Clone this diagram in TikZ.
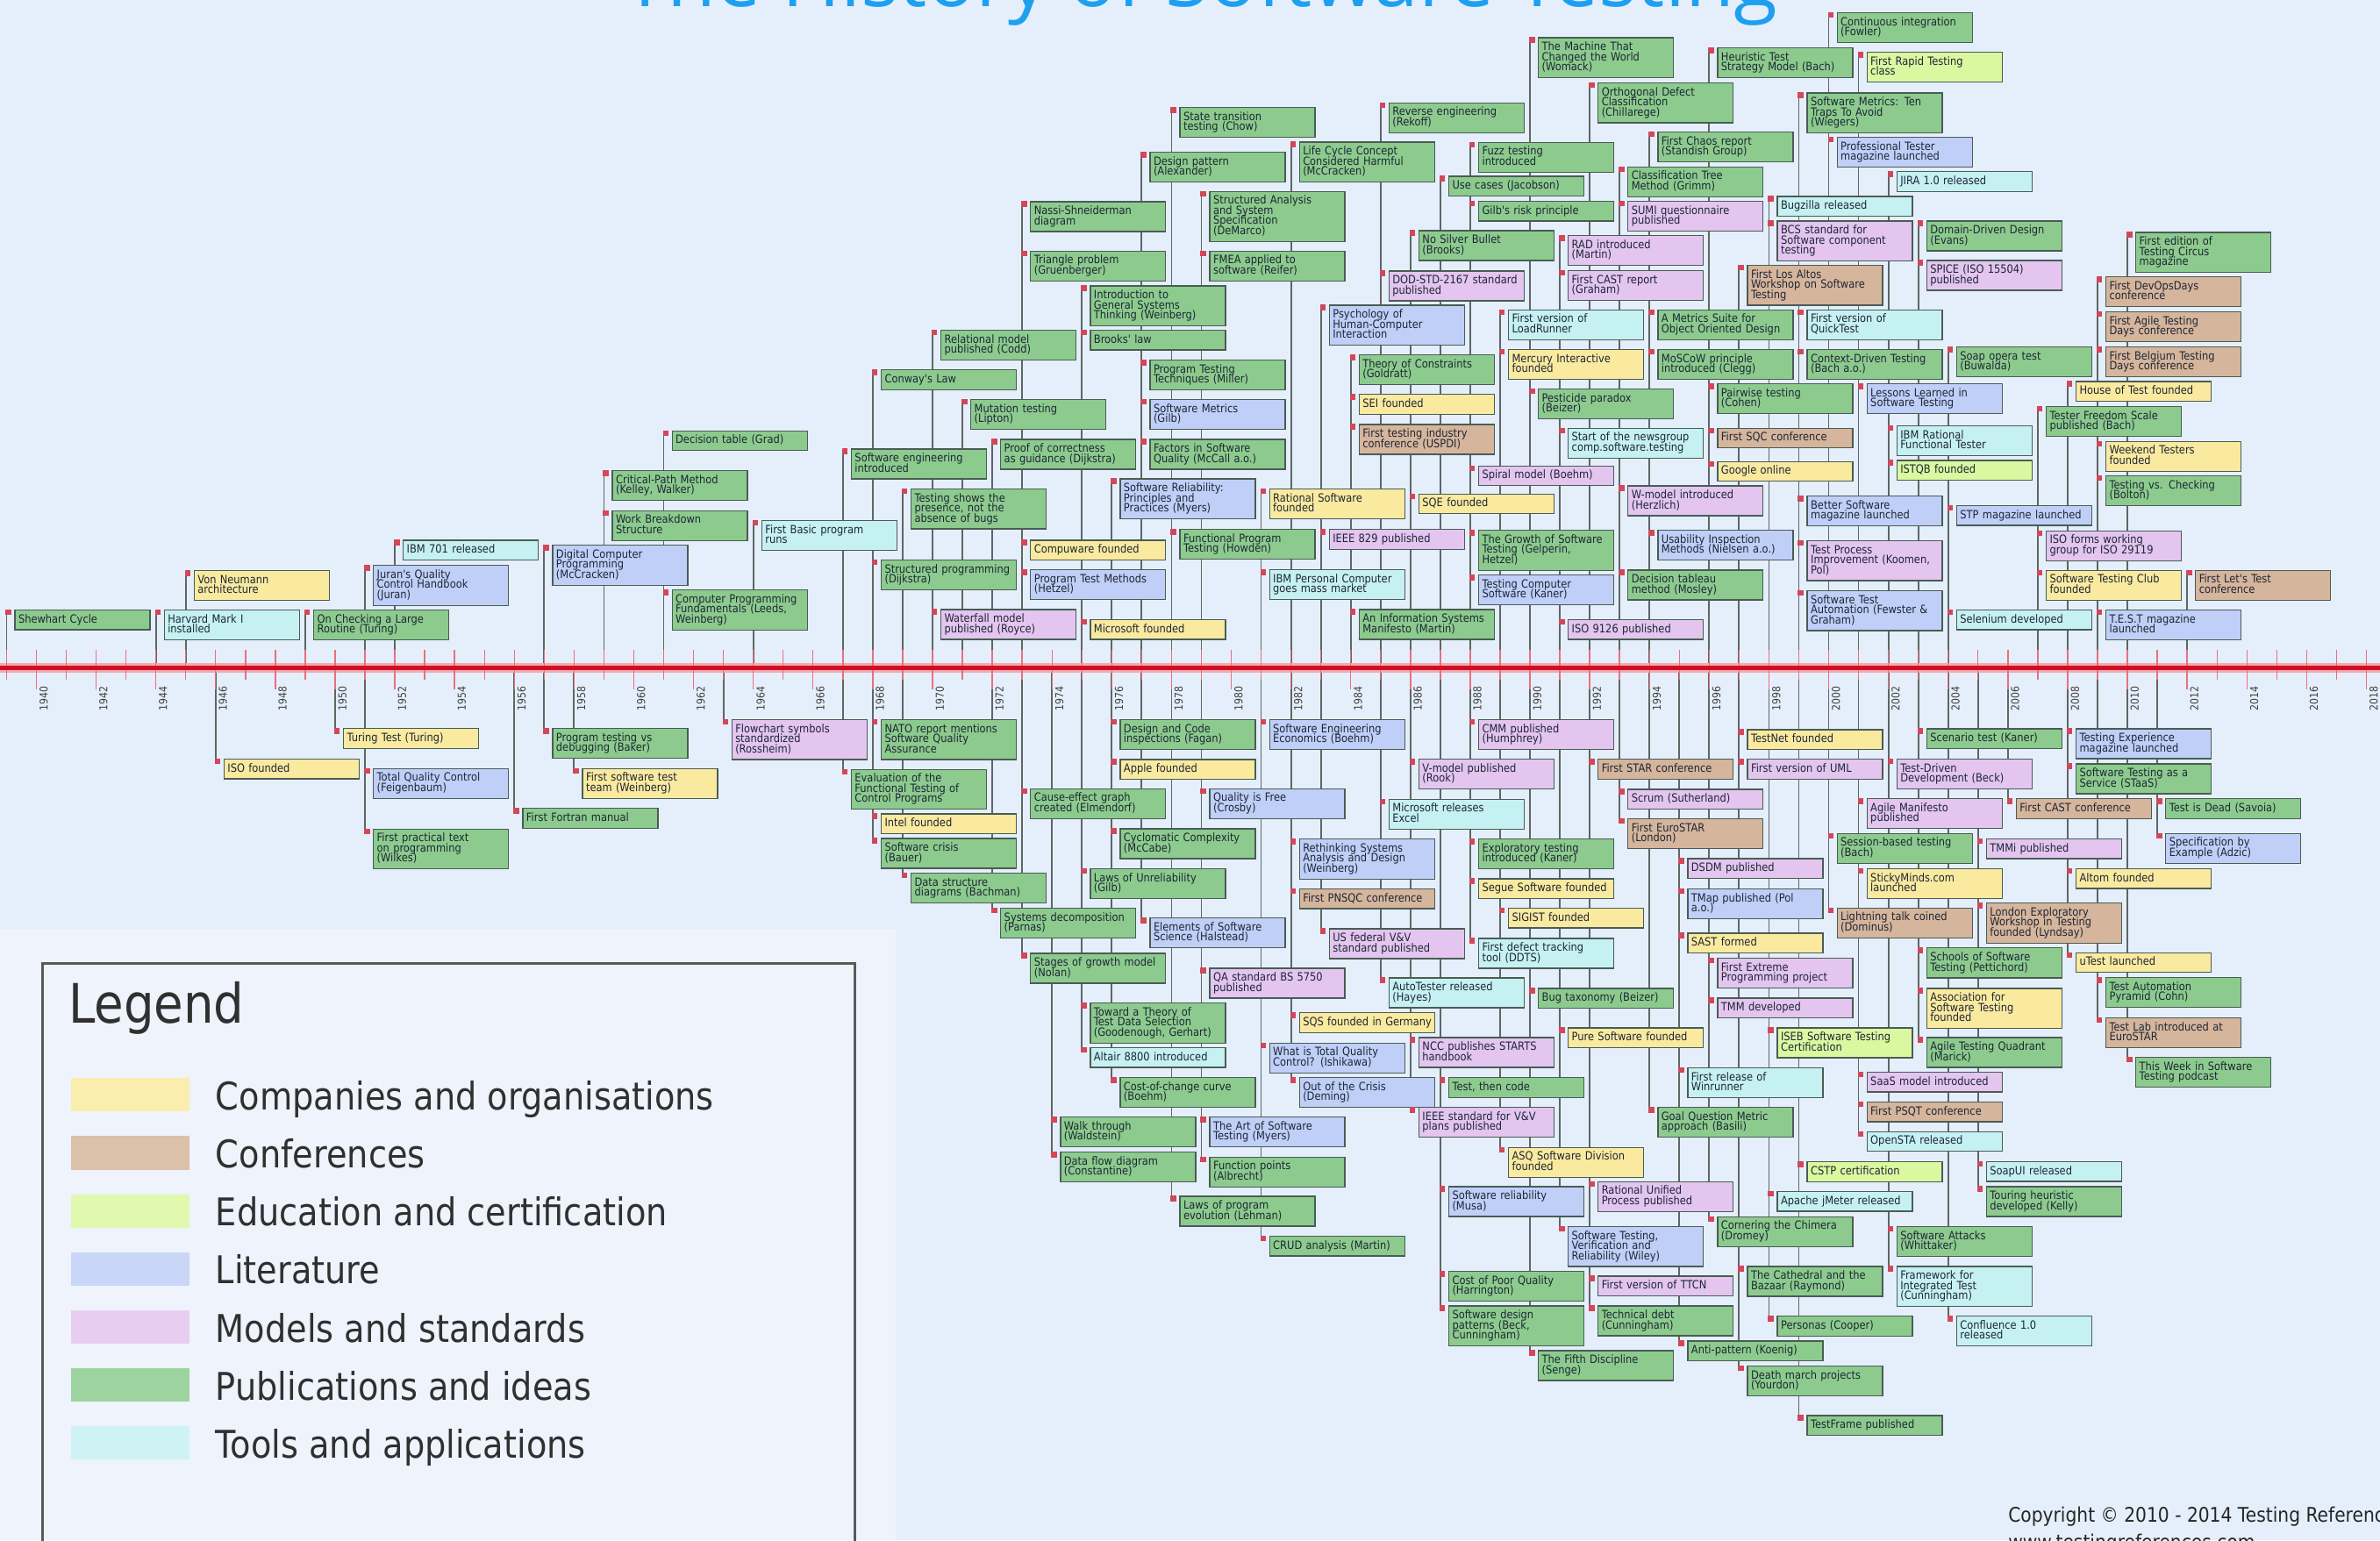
\documentclass[tikz,border=0pt]{standalone}
\usepackage{fontspec}
\newfontfamily\cf{DejaVu Sans}[FakeStretch=0.88]
\newfontfamily\tf{Open Sans}
\pgfdeclarelayer{bg}\pgfdeclarelayer{lines}\pgfdeclarelayer{axis}
\pgfsetlayers{bg,lines,axis,main}
\definecolor{bgc}{HTML}{E5EFFB}
\definecolor{legbg}{HTML}{EEF3FC}
\definecolor{cPub}{HTML}{8CCB8D}
\definecolor{cComp}{HTML}{FAEA9F}
\definecolor{cConf}{HTML}{D5B59B}
\definecolor{cEdu}{HTML}{DAF8A0}
\definecolor{cLit}{HTML}{BFCFF7}
\definecolor{cMod}{HTML}{E3C5EF}
\definecolor{cTool}{HTML}{C6F1F3}
\definecolor{boxline}{HTML}{4A5C55}
\definecolor{txt}{HTML}{1E2636}
\definecolor{evl}{HTML}{5E6666}
\definecolor{mk}{HTML}{D2475A}
\definecolor{axc}{HTML}{D01020}
\definecolor{halo}{HTML}{F2A8B2}
\definecolor{tickc}{HTML}{E8707E}
\definecolor{titc}{HTML}{1EA0F0}
\definecolor{legt}{HTML}{303030}
\newcommand\bstrut{\vrule width 0pt height 9.9pt depth 3.1pt}
\newcommand\boxfont{\cf\fontsize{13}{11.5}\selectfont\lineskiplimit=-20pt\hyphenpenalty=10000\relax}
\tikzset{
  evbox/.style={draw=boxline, line width=1.3pt, anchor=north west, text width=146pt, align=left,
    inner xsep=4pt, inner ysep=4.75pt, font=\boxfont, text=txt,
    execute at begin node=\bstrut, execute at end node=\bstrut},
  evline/.style={draw=evl, line width=1.8pt},
  evmark/.style={fill=mk},
  yearlab/.style={font=\cf\fontsize{12.4}{13}\selectfont, text=black!75, inner sep=0pt, rotate=90, anchor=east},
  yeartick/.style={draw=tickc, line width=1.4pt}
}
\newcommand\tlev[5]{%
  \pgfmathsetmacro\evx{23.96+19.68*(#2-1940)}%
  \coordinate (#1-a) at (\evx,440);%
  \coordinate (#1-t) at (\evx,#3);%
  \begin{pgfonlayer}{lines}\draw[evline] (#1-a) -- (#1-t);\end{pgfonlayer}%
  \fill[evmark] ([xshift=-1pt]#1-t) rectangle ++(6.5pt,-6.5pt);%
  \node[evbox,fill=#4] (#1) at ([xshift=9pt]#1-t) {#5};%
}
\begin{document}
\begin{tikzpicture}[x=1.7302pt,y=-1.7302pt]
\begin{pgfonlayer}{bg}
\fill[bgc] (0,0) rectangle (1568,1015);
\fill[legbg] (0,612) rectangle (590,1015);
\end{pgfonlayer}
\useasboundingbox (0,0) rectangle (1568,1015);
% title
\node[anchor=base, font=\tf\fontsize{91}{93}\selectfont, text=titc, inner sep=0pt] (title) at (791,4.5) {The History of Software Testing};
% axis
\begin{pgfonlayer}{axis}
\coordinate (axL) at (0,440);
\coordinate (axR) at (1568,440);
\draw[halo, line width=11pt] (axL) -- (axR);
\foreach \yy in {1939,1941,...,2017}{
  \pgfmathsetmacro\xx{23.96+19.68*(\yy-1940)}
  \draw[yeartick] (\xx,428) -- (\xx,448);
}
\foreach \yy in {1940,1942,...,2018}{
  \pgfmathsetmacro\xx{23.96+19.68*(\yy-1940)}
  \draw[yeartick] (\xx,428) -- (\xx,454);
}
\draw[axc, line width=5.5pt] (axL) -- (axR);
\end{pgfonlayer}
\foreach \yy in {1940,1942,...,2018}{
  \pgfmathsetmacro\xx{23.96+19.68*(\yy-1940)+4.8}
  \node[yearlab] (yl\yy) at (\xx,452) {\yy};
}
% ---------- above the axis
\tlev{shewhart}{1939}{401.5}{cPub}{Shewhart Cycle}
\tlev{harvard}{1944}{401.5}{cTool}{Harvard Mark I\\installed}
\tlev{vonneumann}{1945}{375.7}{cComp}{Von Neumann\\architecture}
\tlev{onchecking}{1949}{401.5}{cPub}{On Checking a Large\\Routine (Turing)}
\tlev{juran}{1951}{372.2}{cLit}{Juran's Quality\\Control Handbook\\(Juran)}
\tlev{ibmsevenoone}{1952}{355.7}{cTool}{IBM 701 released}
\tlev{digital}{1957}{359}{cLit}{Digital Computer\\Programming\\(McCracken)}
\tlev{cpm}{1959}{309.8}{cPub}{Critical-Path Method\\(Kelley, Walker)}
\tlev{wbs}{1959}{336.1}{cPub}{Work Breakdown\\Structure}
\tlev{dectable}{1961}{283.5}{cPub}{Decision table (Grad)}
\tlev{cpf}{1961}{388.4}{cPub}{Computer Programming\\Fundamentals (Leeds,\\Weinberg)}
\tlev{basic}{1964}{342.7}{cTool}{First Basic program\\runs}
\tlev{swe}{1967}{295.5}{cPub}{Software engineering\\introduced}
\tlev{conway}{1968}{243.4}{cPub}{Conway's Law}
\tlev{codd}{1970}{217.3}{cPub}{Relational model\\published (Codd)}
\tlev{nassi}{1973}{132.6}{cPub}{Nassi-Shneiderman\\diagram}
\tlev{triangle}{1973}{165.1}{cPub}{Triangle problem\\(Gruenberger)}
\tlev{mutation}{1971}{262.9}{cPub}{Mutation testing\\(Lipton)}
\tlev{gst}{1975}{188.1}{cPub}{Introduction to\\General Systems\\Thinking (Weinberg)}
\tlev{brooks}{1975}{217.3}{cPub}{Brooks' law}
\tlev{proof}{1972}{289.2}{cPub}{Proof of correctness\\as guidance (Dijkstra)}
\tlev{testingshows}{1969}{321.8}{cPub}{Testing shows the\\presence, not the\\absence of bugs}
\tlev{designpattern}{1977}{100}{cPub}{Design pattern\\(Alexander)}
\tlev{statetrans}{1978}{70.6}{cPub}{State transition\\testing (Chow)}
\tlev{demarco}{1979}{125.8}{cPub}{Structured Analysis\\and System\\Specification\\(DeMarco)}
\tlev{fmea}{1979}{165.1}{cPub}{FMEA applied to\\software (Reifer)}
\tlev{miller}{1977}{237}{cPub}{Program Testing\\Techniques (Miller)}
\tlev{gilbmetrics}{1977}{262.9}{cLit}{Software Metrics\\(Gilb)}
\tlev{mccall}{1977}{289.2}{cPub}{Factors in Software\\Quality (McCall a.o.)}
\tlev{myersrel}{1976}{315.2}{cLit}{Software Reliability:\\Principles and\\Practices (Myers)}
\tlev{lifecycle}{1982}{93.3}{cPub}{Life Cycle Concept\\Considered Harmful\\(McCracken)}
\tlev{reverse}{1985}{67.4}{cPub}{Reverse engineering\\(Rekoff)}
\tlev{silver}{1986}{151.7}{cPub}{No Silver Bullet\\(Brooks)}
\tlev{dod}{1985}{178.2}{cMod}{DOD-STD-2167 standard\\published}
\tlev{psych}{1983}{200.8}{cLit}{Psychology of\\Human-Computer\\Interaction}
\tlev{toc}{1984}{233.5}{cPub}{Theory of Constraints\\(Goldratt)}
\tlev{sei}{1984}{259.5}{cComp}{SEI founded}
\tlev{uspdi}{1984}{279.4}{cConf}{First testing industry\\conference (USPDI)}
\tlev{rational}{1981}{321.8}{cComp}{Rational Software\\founded}
\tlev{sqe}{1986}{325.2}{cComp}{SQE founded}
\tlev{ieeeeighttwonine}{1983}{348.6}{cMod}{IEEE 829 published}
\tlev{howden}{1978}{348.6}{cPub}{Functional Program\\Testing (Howden)}
\tlev{compuware}{1973}{355.6}{cComp}{Compuware founded}
\tlev{hetzel}{1973}{375.1}{cLit}{Program Test Methods\\(Hetzel)}
\tlev{structprog}{1968}{368.6}{cPub}{Structured programming\\(Dijkstra)}
\tlev{waterfall}{1970}{401.3}{cMod}{Waterfall model\\published (Royce)}
\tlev{microsoft}{1975}{407.9}{cComp}{Microsoft founded}
\tlev{ibmpc}{1981}{375.1}{cTool}{IBM Personal Computer\\goes mass market}
\tlev{ismanifesto}{1984}{401.3}{cPub}{An Information Systems\\Manifesto (Martin)}
\tlev{machine}{1990}{24.5}{cPub}{The Machine That\\Changed the World\\(Womack)}
\tlev{heuristic}{1996}{31.3}{cPub}{Heuristic Test\\Strategy Model (Bach)}
\tlev{ci}{2000}{8.0}{cPub}{Continuous integration\\(Fowler)}
\tlev{rapid}{2001}{34.1}{cEdu}{First Rapid Testing\\class}
\tlev{odc}{1992}{54.2}{cPub}{Orthogonal Defect\\Classification\\(Chillarege)}
\tlev{fuzz}{1988}{93.4}{cPub}{Fuzz testing\\introduced}
\tlev{usecases}{1987}{115.8}{cPub}{Use cases (Jacobson)}
\tlev{gilbrisk}{1988}{132.3}{cPub}{Gilb's risk principle}
\tlev{tentraps}{1999}{60.8}{cPub}{Software Metrics: Ten\\Traps To Avoid\\(Wiegers)}
\tlev{proftester}{2000}{90.1}{cLit}{Professional Tester\\magazine launched}
\tlev{jira}{2002}{112.7}{cTool}{JIRA 1.0 released}
\tlev{chaos}{1994}{86.6}{cPub}{First Chaos report\\(Standish Group)}
\tlev{ctm}{1993}{109.6}{cPub}{Classification Tree\\Method (Grimm)}
\tlev{sumi}{1993}{132.3}{cMod}{SUMI questionnaire\\published}
\tlev{bugzilla}{1998}{129}{cTool}{Bugzilla released}
\tlev{bcs}{1998}{145.3}{cMod}{BCS standard for\\Software component\\testing}
\tlev{rad}{1991}{154.9}{cMod}{RAD introduced\\(Martin)}
\tlev{castreport}{1991}{177.9}{cMod}{First CAST report\\(Graham)}
\tlev{losaltos}{1997}{174.4}{cConf}{First Los Altos\\Workshop on Software\\Testing}
\tlev{ddd}{2003}{145.3}{cPub}{Domain-Driven Design\\(Evans)}
\tlev{spice}{2003}{171.2}{cMod}{SPICE (ISO 15504)\\published}
\tlev{loadrunner}{1989}{203.8}{cTool}{First version of\\LoadRunner}
\tlev{metricssuite}{1994}{203.8}{cPub}{A Metrics Suite for\\Object Oriented Design}
\tlev{quicktest}{1999}{203.8}{cTool}{First version of\\QuickTest}
\tlev{mercury}{1989}{230}{cComp}{Mercury Interactive\\founded}
\tlev{moscow}{1994}{230}{cPub}{MoSCoW principle\\introduced (Clegg)}
\tlev{cdt}{1999}{230}{cPub}{Context-Driven Testing\\(Bach a.o.)}
\tlev{soap}{2004}{228.3}{cPub}{Soap opera test\\(Buwalda)}
\tlev{pesticide}{1990}{255.9}{cPub}{Pesticide paradox\\(Beizer)}
\tlev{pairwise}{1996}{252.6}{cPub}{Pairwise testing\\(Cohen)}
\tlev{lessons}{2001}{252.6}{cLit}{Lessons Learned in\\Software Testing}
\tlev{newsgroup}{1991}{281.8}{cTool}{Start of the newsgroup\\comp.software.testing}
\tlev{sqc}{1996}{281.8}{cConf}{First SQC conference}
\tlev{ibmrft}{2002}{280.2}{cTool}{IBM Rational\\Functional Tester}
\tlev{google}{1996}{303.8}{cComp}{Google online}
\tlev{spiral}{1988}{306.7}{cMod}{Spiral model (Boehm)}
\tlev{wmodel}{1993}{319.8}{cMod}{W-model introduced\\(Herzlich)}
\tlev{growth}{1988}{349.1}{cPub}{The Growth of Software\\Testing (Gelperin,\\Hetzel)}
\tlev{kaner}{1988}{378.6}{cLit}{Testing Computer\\Software (Kaner)}
\tlev{usability}{1994}{349.1}{cLit}{Usability Inspection\\Methods (Nielsen a.o.)}
\tlev{tableau}{1993}{375.3}{cPub}{Decision tableau\\method (Mosley)}
\tlev{isoninetwo}{1991}{408}{cMod}{ISO 9126 published}
\tlev{bettersw}{1999}{326.6}{cLit}{Better Software\\magazine launched}
\tlev{tpi}{1999}{356}{cMod}{Test Process\\Improvement (Koomen,\\Pol)}
\tlev{swta}{1999}{388.8}{cLit}{Software Test\\Automation (Fewster \&\\Graham)}
\tlev{stp}{2004}{332.8}{cLit}{STP magazine launched}
\tlev{istqb}{2002}{303.1}{cEdu}{ISTQB founded}
\tlev{selenium}{2004}{401.5}{cTool}{Selenium developed}
\tlev{tfs}{2007}{267.5}{cPub}{Tester Freedom Scale\\published (Bach)}
\tlev{houseoftest}{2008}{251}{cComp}{House of Test founded}
\tlev{circus}{2010}{152.7}{cPub}{First edition of\\Testing Circus\\magazine}
\tlev{devops}{2009}{182.1}{cConf}{First DevOpsDays\\conference}
\tlev{agiledays}{2009}{205.1}{cConf}{First Agile Testing\\Days conference}
\tlev{belgium}{2009}{228.3}{cConf}{First Belgium Testing\\Days conference}
\tlev{weekend}{2009}{290.5}{cComp}{Weekend Testers\\founded}
\tlev{bolton}{2009}{313.2}{cPub}{Testing vs. Checking\\(Bolton)}
\tlev{isoworking}{2007}{349.4}{cMod}{ISO forms working\\group for ISO 29119}
\tlev{stc}{2007}{375.4}{cComp}{Software Testing Club\\founded}
\tlev{letstest}{2012}{375.4}{cConf}{First Let's Test\\conference}
\tlev{testmag}{2009}{401.5}{cLit}{T.E.S.T magazine\\launched}
% ---------- below the axis
\tlev{turing}{1950}{479.8}{cComp}{Turing Test (Turing)}
\tlev{iso}{1946}{499.9}{cComp}{ISO founded}
\tlev{feigenbaum}{1951}{506.1}{cLit}{Total Quality Control\\(Feigenbaum)}
\tlev{wilkes}{1951}{545.9}{cPub}{First practical text\\on programming\\(Wilkes)}
\tlev{baker}{1957}{479.8}{cPub}{Program testing vs\\debugging (Baker)}
\tlev{testteam}{1958}{506.1}{cComp}{First software test\\team (Weinberg)}
\tlev{fortran}{1956}{532.4}{cPub}{First Fortran manual}
\tlev{flowchart}{1963}{473.9}{cMod}{Flowchart symbols\\standardized\\(Rossheim)}
\tlev{evaluation}{1967}{506.6}{cPub}{Evaluation of the\\Functional Testing of\\Control Programs}
\tlev{nato}{1968}{473.9}{cPub}{NATO report mentions\\Software Quality\\Assurance}
\tlev{intel}{1968}{535.9}{cComp}{Intel founded}
\tlev{crisis}{1968}{552.1}{cPub}{Software crisis\\(Bauer)}
\tlev{bachman}{1969}{575}{cPub}{Data structure\\diagrams (Bachman)}
\tlev{parnas}{1972}{598.1}{cPub}{Systems decomposition\\(Parnas)}
\tlev{causeeffect}{1973}{519.4}{cPub}{Cause-effect graph\\created (Elmendorf)}
\tlev{nolan}{1973}{627.8}{cPub}{Stages of growth model\\(Nolan)}
\tlev{fagan}{1976}{473.9}{cPub}{Design and Code\\inspections (Fagan)}
\tlev{apple}{1976}{500.2}{cComp}{Apple founded}
\tlev{mccabe}{1976}{545.7}{cPub}{Cyclomatic Complexity\\(McCabe)}
\tlev{gilbunrel}{1975}{572}{cPub}{Laws of Unreliability\\(Gilb)}
\tlev{halstead}{1977}{604.6}{cLit}{Elements of Software\\Science (Halstead)}
\tlev{crosby}{1979}{519.4}{cLit}{Quality is Free\\(Crosby)}
\tlev{bsfiveseven}{1979}{637.7}{cMod}{QA standard BS 5750\\published}
\tlev{goodenough}{1975}{660.6}{cPub}{Toward a Theory of\\Test Data Selection\\(Goodenough, Gerhart)}
\tlev{altair}{1975}{689.9}{cTool}{Altair 8800 introduced}
\tlev{costchange}{1976}{709.8}{cPub}{Cost-of-change curve\\(Boehm)}
\tlev{walkthrough}{1974}{735.8}{cPub}{Walk through\\(Waldstein)}
\tlev{dataflow}{1974}{758.9}{cPub}{Data flow diagram\\(Constantine)}
\tlev{artofst}{1979}{735.8}{cLit}{The Art of Software\\Testing (Myers)}
\tlev{fpoints}{1979}{762.1}{cPub}{Function points\\(Albrecht)}
\tlev{lehman}{1978}{788}{cPub}{Laws of program\\evolution (Lehman)}
\tlev{crud}{1981}{814.2}{cPub}{CRUD analysis (Martin)}
\tlev{boehmecon}{1981}{473.9}{cLit}{Software Engineering\\Economics (Boehm)}
\tlev{rethinking}{1982}{552.6}{cLit}{Rethinking Systems\\Analysis and Design\\(Weinberg)}
\tlev{pnsqc}{1982}{585.3}{cConf}{First PNSQC conference}
\tlev{usfed}{1983}{611.6}{cMod}{US federal V\&V\\standard published}
\tlev{sqs}{1982}{667}{cComp}{\mbox{SQS founded in Germany}}
\tlev{ishikawa}{1981}{686.9}{cLit}{What is Total Quality\\Control? (Ishikawa)}
\tlev{deming}{1982}{709.8}{cLit}{Out of the Crisis\\(Deming)}
\tlev{excel}{1985}{526.3}{cTool}{Microsoft releases\\Excel}
\tlev{autotester}{1985}{644.1}{cTool}{AutoTester released\\(Hayes)}
\tlev{vmodel}{1986}{500}{cMod}{V-model published\\(Rook)}
\tlev{ncc}{1986}{683.4}{cMod}{NCC publishes STARTS\\handbook}
\tlev{ieeevv}{1986}{729.4}{cMod}{IEEE standard for V\&V\\plans published}
\tlev{testthencode}{1987}{709.8}{cPub}{Test, then code}
\tlev{cmm}{1988}{473.9}{cMod}{CMM published\\(Humphrey)}
\tlev{exploratory}{1988}{552.6}{cPub}{Exploratory testing\\introduced (Kaner)}
\tlev{segue}{1988}{578.7}{cComp}{Segue Software founded}
\tlev{sigist}{1989}{598.1}{cComp}{SIGIST founded}
\tlev{ddts}{1988}{618}{cTool}{First defect tracking\\tool (DDTS)}
\tlev{bugtax}{1990}{651}{cPub}{Bug taxonomy (Beizer)}
\tlev{pure}{1991}{677}{cComp}{Pure Software founded}
\tlev{asq}{1989}{755.7}{cComp}{ASQ Software Division\\founded}
\tlev{star}{1992}{500}{cConf}{First STAR conference}
\tlev{scrum}{1993}{519.7}{cMod}{Scrum (Sutherland)}
\tlev{eurostar}{1993}{539.1}{cConf}{First EuroSTAR\\(London)}
\tlev{dsdm}{1995}{565.4}{cMod}{DSDM published}
\tlev{tmap}{1995}{585.3}{cLit}{TMap published (Pol\\a.o.)}
\tlev{sast}{1995}{614.6}{cComp}{SAST formed}
\tlev{xp}{1996}{631.1}{cMod}{First Extreme\\Programming project}
\tlev{tmm}{1996}{657.4}{cMod}{TMM developed}
\tlev{winrunner}{1995}{703.3}{cTool}{First release of\\Winrunner}
\tlev{gqm}{1994}{729.4}{cPub}{Goal Question Metric\\approach (Basili)}
\tlev{testnet}{1997}{480.5}{cComp}{TestNet founded}
\tlev{uml}{1997}{500}{cMod}{First version of UML}
\tlev{iseb}{1998}{677}{cEdu}{ISEB Software Testing\\Certification}
\tlev{cstp}{1999}{765.3}{cEdu}{CSTP certification}
\tlev{scenario}{2003}{479.9}{cPub}{Scenario test (Kaner)}
\tlev{tdd}{2002}{499.8}{cMod}{Test-Driven\\Development (Beck)}
\tlev{agilemanifesto}{2001}{526}{cMod}{Agile Manifesto\\published}
\tlev{sbtm}{2000}{548.8}{cPub}{Session-based testing\\(Bach)}
\tlev{stickyminds}{2001}{572}{cComp}{StickyMinds.com\\launched}
\tlev{lightning}{2000}{597.9}{cConf}{Lightning talk coined\\(Dominus)}
\tlev{tmmi}{2005}{552.4}{cMod}{TMMi published}
\tlev{lewt}{2005}{594.8}{cConf}{London Exploratory\\Workshop in Testing\\founded (Lyndsay)}
\tlev{castconf}{2006}{526}{cConf}{First CAST conference}
\tlev{testexp}{2008}{479.9}{cLit}{Testing Experience\\magazine launched}
\tlev{staas}{2008}{503.1}{cPub}{Software Testing as a\\Service (STaaS)}
\tlev{testisdead}{2011}{526}{cPub}{Test is Dead (Savoia)}
\tlev{specbyex}{2011}{548.8}{cLit}{Specification by\\Example (Adzic)}
\tlev{altom}{2008}{572}{cComp}{Altom founded}
\tlev{utest}{2008}{627.4}{cComp}{uTest launched}
\tlev{pyramid}{2009}{643.9}{cPub}{Test Automation\\Pyramid (Cohn)}
\tlev{testlab}{2009}{670.3}{cConf}{Test Lab introduced at\\EuroSTAR}
\tlev{twist}{2010}{696.3}{cPub}{This Week in Software\\Testing podcast}
\tlev{schools}{2003}{624.3}{cPub}{Schools of Software\\Testing (Pettichord)}
\tlev{ast}{2003}{651}{cComp}{Association for\\Software Testing\\founded}
\tlev{quadrant}{2003}{683.3}{cPub}{Agile Testing Quadrant\\(Marick)}
\tlev{saas}{2001}{706.2}{cMod}{SaaS model introduced}
\tlev{psqt}{2001}{725.8}{cConf}{First PSQT conference}
\tlev{opensta}{2001}{745.3}{cTool}{OpenSTA released}
\tlev{soapui}{2005}{765.2}{cTool}{SoapUI released}
\tlev{touring}{2005}{781.6}{cPub}{Touring heuristic\\developed (Kelly)}
\tlev{jmeter}{1998}{784.8}{cTool}{Apache jMeter released}
\tlev{musa}{1987}{781.6}{cLit}{Software reliability\\(Musa)}
\tlev{rup}{1992}{778.3}{cMod}{Rational Unified\\Process published}
\tlev{stvr}{1991}{807.8}{cLit}{Software Testing,\\Verification and\\Reliability (Wiley)}
\tlev{copq}{1987}{837.5}{cPub}{Cost of Poor Quality\\(Harrington)}
\tlev{swdp}{1987}{860.2}{cPub}{Software design\\patterns (Beck,\\Cunningham)}
\tlev{fifth}{1990}{889.7}{cPub}{The Fifth Discipline\\(Senge)}
\tlev{ttcn}{1992}{840.6}{cMod}{First version of TTCN}
\tlev{techdebt}{1992}{860.2}{cPub}{Technical debt\\(Cunningham)}
\tlev{antipattern}{1995}{883.3}{cPub}{Anti-pattern (Koenig)}
\tlev{chimera}{1996}{801.4}{cPub}{Cornering the Chimera\\(Dromey)}
\tlev{cathedral}{1997}{834.2}{cPub}{The Cathedral and the\\Bazaar (Raymond)}
\tlev{personas}{1998}{867}{cPub}{Personas (Cooper)}
\tlev{deathmarch}{1997}{899.7}{cPub}{Death march projects\\(Yourdon)}
\tlev{testframe}{1999}{932.4}{cPub}{TestFrame published}
\tlev{attacks}{2002}{807.8}{cPub}{Software Attacks\\(Whittaker)}
\tlev{fit}{2002}{834.2}{cTool}{Framework for\\Integrated Test\\(Cunningham)}
\tlev{confluence}{2004}{867}{cTool}{Confluence 1.0\\released}
% ---------- legend
\draw[black!65, line width=3.2pt] (28,1040) -- (28,635) -- (563,635) -- (563,1040);
\node[anchor=base west, font=\cf\fontsize{62}{62}\selectfont, text=legt, inner sep=0pt] (legtitle) at (45,674) {Legend};
\foreach \c/\t [count=\i from 0] in {cComp/Companies and organisations, cConf/Conferences, cEdu/Education and certification, cLit/Literature, cMod/Models and standards, cPub/Publications and ideas, cTool/Tools and applications}{
  \pgfmathsetmacro\yc{721.5+38.2*\i}
  \fill[\c!85!white] (47,\yc-11) rectangle (125,\yc+11);
  \node[anchor=base west, font=\cf\fontsize{43.5}{44}\selectfont, text=legt, inner sep=0pt] (leg\i) at (142,\yc+10) {\t};
}
% copyright
\node[anchor=base west, font=\cf\fontsize{23}{24}\selectfont, text=black!85, inner sep=0pt] (copyr) at (1323,1003) {Copyright © 2010 - 2014 Testing References};
\node[anchor=base west, font=\cf\fontsize{23}{24}\selectfont, text=black!85, inner sep=0pt] (www) at (1323,1021) {www.testingreferences.com};
\end{tikzpicture}
\end{document}
